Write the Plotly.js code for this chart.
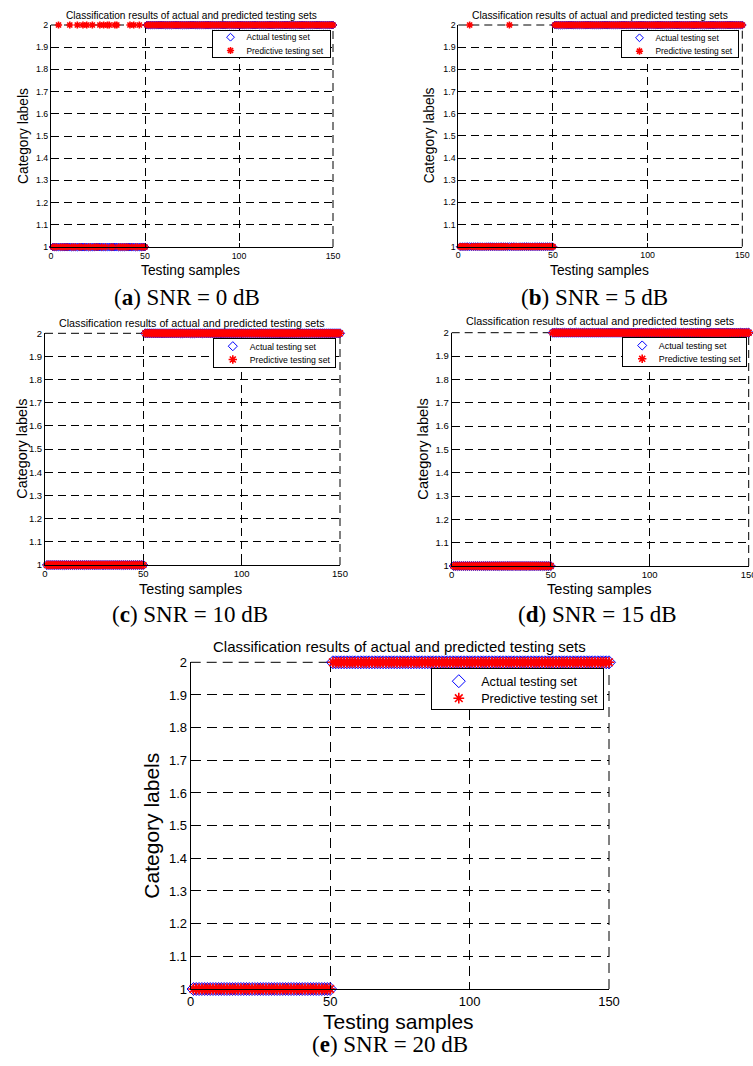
<!DOCTYPE html>
<html>
<head>
<meta charset="utf-8">
<script src="https://cdn.plot.ly/plotly-3.0.1.min.js"></script>
<style>
  html, body { margin: 0; padding: 0; background: #ffffff; }
  #chart { width: 753px; height: 1066px; }
</style>
</head>
<body>
<div id="chart"></div>
<script>
// Actual class label of each testing sample (samples 1..150)
const actualLabels = [
  1,1,1,1,1,1,1,1,1,1,1,1,1,1,1,1,1,1,1,1,1,1,1,1,1,
  1,1,1,1,1,1,1,1,1,1,1,1,1,1,1,1,1,1,1,1,1,1,1,1,1,
  2,2,2,2,2,2,2,2,2,2,2,2,2,2,2,2,2,2,2,2,2,2,2,2,2,
  2,2,2,2,2,2,2,2,2,2,2,2,2,2,2,2,2,2,2,2,2,2,2,2,2,
  2,2,2,2,2,2,2,2,2,2,2,2,2,2,2,2,2,2,2,2,2,2,2,2,2,
  2,2,2,2,2,2,2,2,2,2,2,2,2,2,2,2,2,2,2,2,2,2,2,2,2
];

// Samples whose predicted label differs from the actual one, per SNR level
const errorsSnr0  = [4, 10, 14, 17, 19, 22, 26, 28, 30, 31, 34, 35, 42, 44, 47];
const errorsSnr5  = [6, 27];
const errorsSnr10 = [];
const errorsSnr15 = [];
const errorsSnr20 = [];

const snrLevels    = [0, 5, 10, 15, 20];
const panelLetters = ['a', 'b', 'c', 'd', 'e'];
const errorLists   = [errorsSnr0, errorsSnr5, errorsSnr10, errorsSnr15, errorsSnr20];

const xTickVals   = [0, 50, 100, 150];
const xTickLabels = ['0', '50', '100', '150'];
const yTickVals   = [1, 1.1, 1.2, 1.3, 1.4, 1.5, 1.6, 1.7, 1.8, 1.9, 2];
const yTickLabels = ['1', '1.1', '1.2', '1.3', '1.4', '1.5', '1.6', '1.7', '1.8', '1.9', '2'];

const seriesNames = ['Actual testing set', 'Predictive testing set'];
const plotTitle   = 'Classification results of actual and predicted testing sets';
const xLabel      = 'Testing samples';
const yLabel      = 'Category labels';

// ---- page geometry (pixels) ----
const W = 753, H = 1066;
const px = v => v / W;
const py = v => 1 - v / H;

// plot box, text anchors, font sizes and legend box of each panel
const panelBoxes = [
  { l: 51,    r: 333,   t: 25,    b: 247,   titleX: 191,   titleY: 15.7,  xtX: 190.7, xtY: 270,    ytX: 23,    capX: 187,  capY: 297.5,
    fTick: 8.8, fTitle: 10.1, fAxis: 13.8, fLeg: 8.3, dash: '8px,5px', mA: 6, mP: 6,
    leg: { l: 212,   t: 30,    w: 118,   h: 27.3, rows: [6.7, 20],   sym: 18,   txt: 34 } },
  { l: 458.3, r: 742.3, t: 25,    b: 246.7, titleX: 600,   titleY: 15.7,  xtX: 599.3, xtY: 270,    ytX: 429.5, capX: 594,  capY: 297.5,
    fTick: 8.8, fTitle: 10.3, fAxis: 13.8, fLeg: 8.3, dash: '8px,5px', mA: 6, mP: 6,
    leg: { l: 620.7, t: 30,    w: 117.6, h: 27.3, rows: [7.3, 20.7], sym: 18.3, txt: 34.3 } },
  { l: 45,    r: 340,   t: 333.3, b: 565,   titleX: 191.7, titleY: 323.3, xtX: 190.8, xtY: 588.5,  ytX: 22.5,  capX: 190,  capY: 614,
    fTick: 9.5, fTitle: 10.7, fAxis: 14.4, fLeg: 8.7, dash: '8px,5px', mA: 7, mP: 7,
    leg: { l: 213.3, t: 338.3, w: 121.7, h: 29,   rows: [7.4, 20.7], sym: 19,   txt: 36 } },
  { l: 451.7, r: 748.7, t: 332.7, b: 566,   titleX: 600,   titleY: 321,   xtX: 599.7, xtY: 589.3,  ytX: 423.3, capX: 597,  capY: 614,
    fTick: 9.5, fTitle: 10.8, fAxis: 14.6, fLeg: 8.9, dash: '8px,5px', mA: 7, mP: 7,
    leg: { l: 622.3, t: 337.3, w: 123.4, h: 28.7, rows: [7.7, 21],   sym: 19.4, txt: 36 } },
  { l: 190.7, r: 609,   t: 662.3, b: 989,   titleX: 399,   titleY: 646.7, xtX: 398,   xtY: 1021.7, ytX: 152,   capX: 390,  capY: 1044,
    fTick: 13,  fTitle: 15,   fAxis: 21,   fLeg: 12.6, dash: '10px,6px', mA: 10, mP: 9,
    leg: { l: 431,   t: 668.3, w: 172.3, h: 41,   rows: [12.4, 29.4], sym: 27.3, txt: 49.7 } }
];

const SANS  = 'Liberation Sans, Arial, sans-serif';
const SERIF = 'Liberation Serif, Times New Roman, serif';

const sampleIds = actualLabels.map((_, i) => i + 1);

const traces = [];
const annotations = [];
const shapes = [];
const layout = {
  width: W, height: H,
  margin: { l: 0, r: 0, t: 0, b: 0 },
  paper_bgcolor: '#ffffff',
  plot_bgcolor: '#ffffff',
  showlegend: true,
  font: { family: SANS, color: '#000000' }
};

const legendIds = [];

panelBoxes.forEach((p, i) => {
  const n = i === 0 ? '' : String(i + 1);
  const xa = 'x' + n, ya = 'y' + n;
  const legId = 'legend' + n;
  legendIds.push(legId);

  // predicted labels: the actual label flipped at every misclassified sample
  const wrong = new Set(errorLists[i]);
  const predicted = actualLabels.map((v, k) => wrong.has(k + 1) ? 3 - v : v);

  traces.push({
    type: 'scatter', mode: 'markers', name: seriesNames[0],
    x: sampleIds, y: actualLabels, xaxis: xa, yaxis: ya, legend: legId,
    cliponaxis: false, hoverinfo: 'skip',
    marker: { symbol: 'diamond-open', size: p.mA, color: '#0000ff', line: { color: '#0000ff', width: 1 } }
  });
  traces.push({
    type: 'scatter', mode: 'markers', name: seriesNames[1],
    x: sampleIds, y: predicted, xaxis: xa, yaxis: ya, legend: legId,
    cliponaxis: false, hoverinfo: 'skip',
    marker: { symbol: 'asterisk-open', size: p.mP, color: '#ff0000', line: { color: '#ff0000', width: 1.6 } }
  });

  const common = {
    ticks: 'inside', ticklen: 4, tickwidth: 1, tickcolor: '#000000',
    showline: true, linecolor: '#000000', linewidth: 1, mirror: false,
    showgrid: true, gridcolor: '#000000', gridwidth: 1, griddash: p.dash,
    zeroline: false, fixedrange: true, ticklabeloverflow: 'allow',
    tickfont: { family: SANS, size: p.fTick, color: '#000000' }
  };
  layout['xaxis' + n] = Object.assign({}, common, {
    domain: [px(p.l), px(p.r)], range: [0, 150], anchor: ya,
    tickmode: 'array', tickvals: xTickVals, ticktext: xTickLabels
  });
  layout['yaxis' + n] = Object.assign({}, common, {
    domain: [py(p.b), py(p.t)], range: [1, 2], anchor: xa,
    tickmode: 'array', tickvals: yTickVals, ticktext: yTickLabels
  });

  // dashed grid lines along the top and right edges of the axes box
  const edge = { color: '#000000', width: 1, dash: p.dash };
  shapes.push(
    { type: 'line', xref: xa + ' domain', yref: ya + ' domain', x0: 0, x1: 1, y0: 1, y1: 1, line: edge, layer: 'below' },
    { type: 'line', xref: xa + ' domain', yref: ya + ' domain', x0: 1, x1: 1, y0: 0, y1: 1, line: edge, layer: 'below' }
  );

  layout[legId] = {
    x: px(p.leg.l), y: py(p.leg.t), xanchor: 'left', yanchor: 'top',
    xref: 'paper', yref: 'paper',
    bgcolor: '#ffffff', bordercolor: '#000000', borderwidth: 1,
    font: { family: SANS, size: p.fLeg, color: '#000000' },
    tracegroupgap: 0, itemclick: false, itemdoubleclick: false
  };

  annotations.push(
    { text: plotTitle, x: px(p.titleX), y: py(p.titleY), xref: 'paper', yref: 'paper',
      xanchor: 'center', yanchor: 'middle', showarrow: false,
      font: { family: SANS, size: p.fTitle, color: '#000000' } },
    { text: xLabel, x: px(p.xtX), y: py(p.xtY), xref: 'paper', yref: 'paper',
      xanchor: 'center', yanchor: 'middle', showarrow: false,
      font: { family: SANS, size: p.fAxis, color: '#000000' } },
    { text: yLabel, x: px(p.ytX), y: py((p.t + p.b) / 2), xref: 'paper', yref: 'paper',
      xanchor: 'center', yanchor: 'middle', showarrow: false, textangle: -90,
      font: { family: SANS, size: p.fAxis, color: '#000000' } },
    { text: '(<b>' + panelLetters[i] + '</b>) SNR = ' + snrLevels[i] + ' dB',
      x: px(p.capX), y: py(p.capY), xref: 'paper', yref: 'paper',
      xanchor: 'center', yanchor: 'middle', showarrow: false,
      font: { family: SERIF, size: 23, color: '#000000' } }
  );
});

layout.annotations = annotations;
layout.shapes = shapes;

// Append a translation to an SVG element's transform
function shift(el, dx, dy) {
  el.setAttribute('transform', (el.getAttribute('transform') || '') +
    ' translate(' + dx.toFixed(2) + ',' + dy.toFixed(2) + ')');
}

// Pack the legend rows closer together, as in a compact two-entry key box
function compactLegend(gd, legId, spec) {
  const g = gd.querySelector('g.' + legId);
  if (!g) return;
  const bg = g.querySelector('rect.bg');
  if (!bg) return;
  const sb = g.querySelector('g.scrollbox');
  if (sb) sb.removeAttribute('clip-path');
  const box = bg.getBoundingClientRect();
  const rows = g.querySelectorAll('g.traces');
  rows.forEach((row, k) => {
    if (k >= spec.rows.length) return;
    const pts = row.querySelector('g.legendpoints') || row.querySelector('g.legendsymbols');
    const txt = row.querySelector('text');
    if (!pts) return;
    const pb = pts.getBoundingClientRect();
    shift(row, 0, (box.top + spec.rows[k]) - (pb.top + pb.height / 2));
    shift(pts, (box.left + spec.sym) - (pb.left + pb.width / 2), 0);
    if (txt) {
      const tb = txt.getBoundingClientRect();
      shift(txt, (box.left + spec.txt) - tb.left, 0);
    }
    const hit = row.querySelector('rect.legendtoggle');
    if (hit) hit.setAttribute('height', '0');
  });
  bg.setAttribute('width', spec.w);
  bg.setAttribute('height', spec.h);
}

const gd = document.getElementById('chart');
Plotly.newPlot(gd, traces, layout, { displayModeBar: false, staticPlot: true }).then(() => {
  legendIds.forEach((id, i) => compactLegend(gd, id, panelBoxes[i].leg));
});
</script>
</body>
</html>
